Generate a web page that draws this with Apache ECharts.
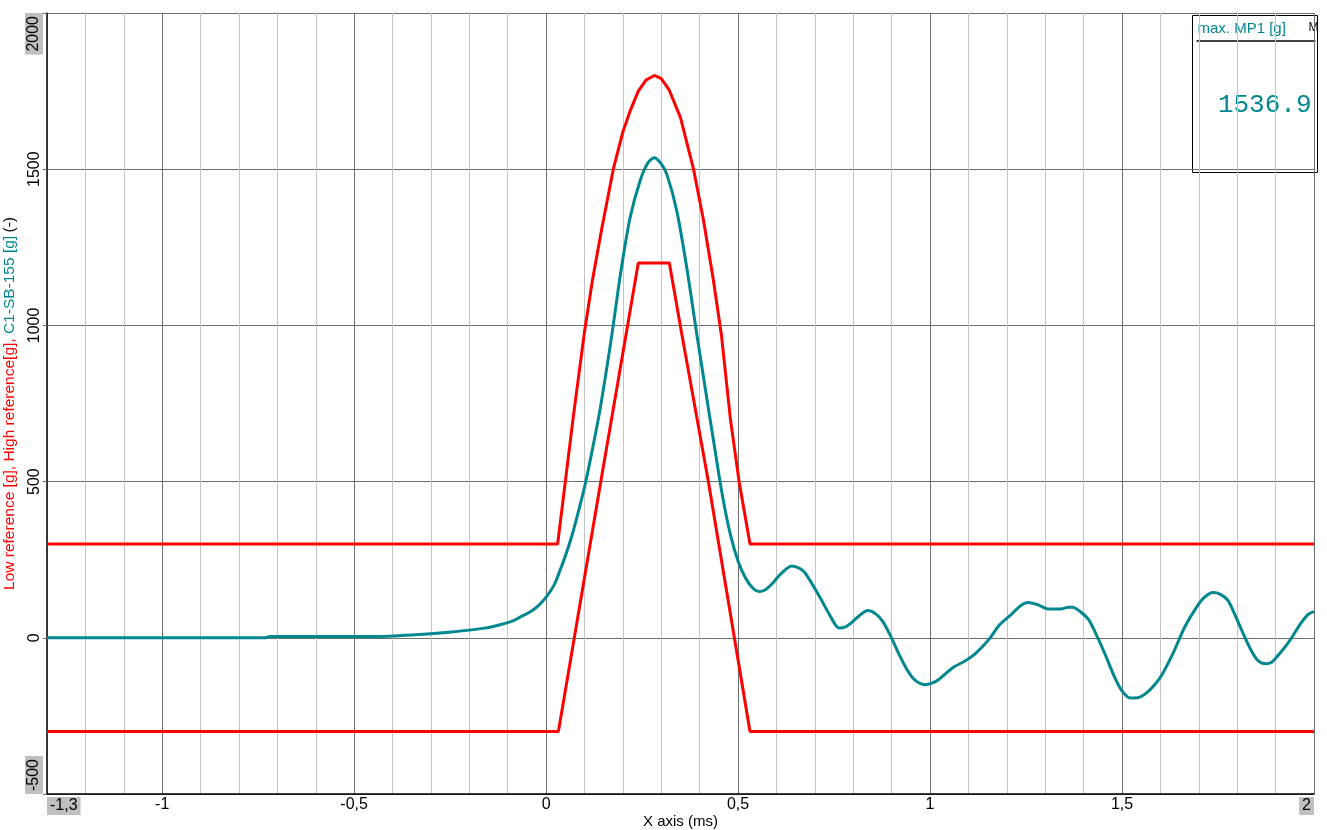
<!DOCTYPE html>
<html>
<head>
<meta charset="utf-8">
<title>Shock pulse</title>
<script src="https://cdn.jsdelivr.net/npm/echarts@6/dist/echarts.min.js"></script>
<style>
  html, body { margin: 0; padding: 0; background: #fff; }
  #chart { width: 1327px; height: 830px; }
</style>
</head>
<body>
<div id="chart"></div>
<script>
// axis ranges / labels
const xMin = -1.3
const xMax = 2
const yMin = -500
const yMax = 2000
const xLabelValues = [-1.3, -1, -0.5, 0, 0.5, 1, 1.5, 2]

// [x (ms), g]
const highRef = [
  [-1.3, 300], [0.03, 300], [0.05, 500], [0.07, 700], [0.1, 980], [0.12, 1140], [0.145, 1310],
  [0.175, 1500], [0.2, 1620], [0.22, 1690], [0.24, 1750], [0.26, 1785], [0.282, 1800],
  [0.3, 1790], [0.32, 1755], [0.35, 1665], [0.384, 1500], [0.41, 1336], [0.435, 1150],
  [0.457, 965], [0.48, 700], [0.503, 497], [0.531, 300], [2, 300]
]
const lowRef = [
  [-1.3, -300], [0.032, -300], [0.141, 490], [0.21, 984], [0.24, 1200], [0.321, 1200],
  [0.353, 975], [0.423, 497], [0.531, -300], [2, -300]
]
const measured = [
  [-1.3, 0], [-0.73, 0], [-0.72, 4], [-0.45, 4], [-0.35, 9], [-0.253, 18], [-0.16, 31],
  [-0.12, 42], [-0.085, 55], [-0.068, 66], [-0.039, 85], [-0.02, 103], [0, 130],
  [0.02, 167], [0.036, 215], [0.05, 262], [0.065, 318], [0.08, 385], [0.1, 482],
  [0.12, 600], [0.141, 735], [0.17, 960], [0.195, 1175], [0.219, 1346], [0.245, 1464],
  [0.265, 1520], [0.282, 1537], [0.298, 1520], [0.314, 1485], [0.34, 1368], [0.366, 1187],
  [0.392, 975], [0.418, 771], [0.44, 600], [0.46, 450], [0.48, 330], [0.5, 245],
  [0.52, 190], [0.54, 157], [0.555, 148], [0.57, 153],
  [0.588, 172], [0.61, 203], [0.64, 230], [0.66, 222], [0.675, 207], [0.712, 132],
  [0.74, 70], [0.763, 31], [0.78, 35], [0.794, 47], [0.815, 70], [0.838, 87], [0.86, 75],
  [0.877, 52], [0.898, 4], [0.92, -55], [0.94, -102], [0.96, -135], [0.986, -150],
  [1.005, -145], [1.022, -134], [1.045, -110], [1.064, -92], [1.09, -75], [1.115, -54],
  [1.135, -30], [1.156, -1], [1.18, 40], [1.211, 74], [1.235, 102], [1.255, 113],
  [1.28, 106], [1.31, 92], [1.34, 92], [1.36, 98], [1.371, 98], [1.39, 85], [1.413, 58],
  [1.439, -6], [1.46, -65], [1.48, -124], [1.5, -170], [1.522, -193], [1.54, -192],
  [1.563, -177], [1.585, -150], [1.604, -118], [1.633, -49], [1.664, 36], [1.695, 100],
  [1.715, 130], [1.737, 145], [1.755, 140], [1.775, 121], [1.79, 85], [1.811, 26],
  [1.83, -25], [1.852, -70], [1.875, -83], [1.89, -78], [1.904, -60], [1.935, -12],
  [1.966, 47], [1.985, 75], [2, 84]
]
const maxValue = '1536.9'

const RED = '#ff0000'
const TEAL = '#00878f'
const MAJOR = '#6e6e6e'
const MINOR = '#c3c3c3'
const FONT = "'Liberation Sans', Arial, sans-serif"

function fmtNum (v) {
  return String(v).replace('.', ',')
}

const chart = echarts.init(document.getElementById('chart'))

chart.setOption({
  animation: false,
  grid: {
    left: 47,
    right: 13,
    top: 13,
    bottom: 36,
    containLabel: false,
    outerBoundsMode: 'none'
  },
  xAxis: {
    type: 'value',
    min: xMin,
    max: xMax,
    interval: 0.1,
    name: 'X axis (ms)',
    nameLocation: 'middle',
    nameGap: 20,
    nameMoveOverlap: false,
    nameTextStyle: { fontFamily: FONT, fontSize: 15, color: '#000' },
    axisLine: { onZero: false, lineStyle: { color: '#000', width: 1.5 } },
    axisTick: { show: false },
    axisLabel: {
      margin: 3,
      fontFamily: FONT,
      fontSize: 16,
      color: '#000',
      showMinLabel: true,
      showMaxLabel: true,
      alignMinLabel: 'left',
      alignMaxLabel: 'right',
      formatter: function (val) {
        const r = Math.round(val * 10) / 10
        if (xLabelValues.indexOf(r) < 0) return ''
        if (r === xMin || r === xMax) return '{edge|' + fmtNum(r) + '}'
        return fmtNum(r)
      },
      rich: {
        edge: { backgroundColor: '#c0c0c0', padding: [1, 3, 1, 3], fontFamily: FONT, fontSize: 16, color: '#000' }
      }
    },
    splitLine: {
      show: true,
      // major every 0.5, ticks start at -1.3
      lineStyle: { color: [MINOR, MINOR, MINOR, MAJOR, MINOR], width: 1 }
    }
  },
  yAxis: {
    type: 'value',
    min: yMin,
    max: yMax,
    interval: 500,
    name: '{r|Low reference [g], High reference[g], }{t|C1-SB-155 [g]} {k|(-)}',
    nameLocation: 'middle',
    nameRotate: 90,
    nameGap: 29,
    nameMoveOverlap: false,
    nameTextStyle: {
      rich: {
        r: { color: RED, fontFamily: FONT, fontSize: 15.5 },
        t: { color: TEAL, fontFamily: FONT, fontSize: 15.5 },
        k: { color: '#000', fontFamily: FONT, fontSize: 15.5 }
      }
    },
    axisLine: { onZero: false, lineStyle: { color: '#000', width: 1.5 } },
    axisTick: { show: true, length: 4, lineStyle: { color: MAJOR } },
    axisLabel: {
      rotate: 90,
      margin: 4,
      fontFamily: FONT,
      fontSize: 16,
      color: '#000',
      showMinLabel: true,
      showMaxLabel: true,
      alignMinLabel: 'left',
      alignMaxLabel: 'right',
      formatter: function (val) {
        if (val === yMin || val === yMax) return '{edge|' + val + '}'
        return String(val)
      },
      rich: {
        edge: { backgroundColor: '#c0c0c0', padding: [1, 3, 1, 3], fontFamily: FONT, fontSize: 16, color: '#000' }
      }
    },
    splitLine: { show: true, lineStyle: { color: MAJOR, width: 1 } }
  },
  series: [
    {
      name: 'High reference',
      type: 'line',
      data: highRef,
      showSymbol: false,
      lineStyle: { color: RED, width: 3 },
      z: 3
    },
    {
      name: 'Low reference',
      type: 'line',
      data: lowRef,
      showSymbol: false,
      lineStyle: { color: RED, width: 3 },
      z: 3
    },
    {
      name: 'C1-SB-155',
      type: 'line',
      data: measured,
      showSymbol: false,
      smooth: 0.3,
      lineStyle: { color: TEAL, width: 3 },
      z: 4
    }
  ],
  // result box in the top right corner
  graphic: [
    {
      type: 'group',
      left: 1192,
      top: 15,
      z: 100,
      children: [
        {
          type: 'rect',
          shape: { x: 0, y: 0, width: 125, height: 157 },
          style: { fill: '#fff', stroke: '#000', lineWidth: 1 }
        },
        {
          type: 'text',
          x: 5,
          y: 6,
          style: { text: 'max. MP1 [g]', fill: TEAL, font: '15px ' + FONT }
        },
        {
          type: 'text',
          x: 116,
          y: 6,
          style: { text: 'M', fill: '#000', font: '12px ' + FONT }
        },
        {
          type: 'line',
          shape: { x1: 4, y1: 25.5, x2: 123, y2: 25.5 },
          style: { stroke: '#000', lineWidth: 1.5 }
        },
        {
          type: 'text',
          x: 119,
          y: 90,
          style: {
            text: maxValue,
            fill: TEAL,
            font: "26px 'Courier New', 'Liberation Mono', monospace",
            align: 'right',
            verticalAlign: 'middle'
          }
        }
      ]
    }
  ]
})
</script>
</body>
</html>
